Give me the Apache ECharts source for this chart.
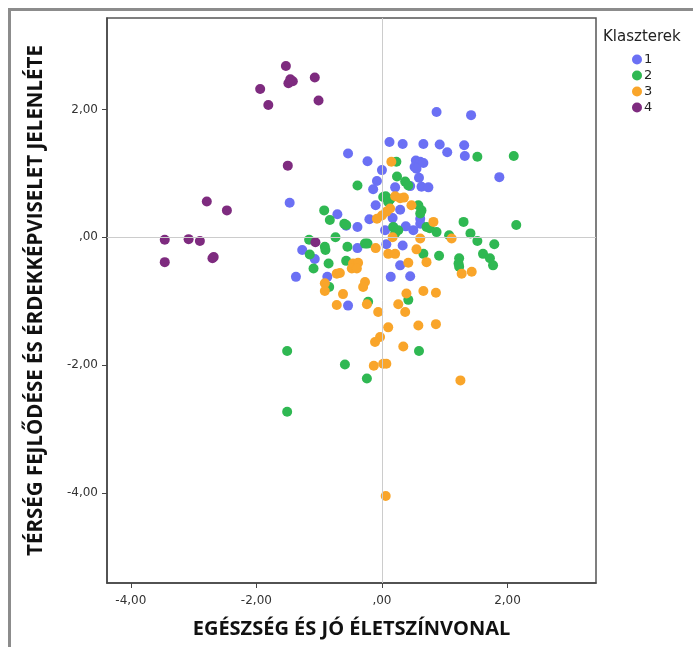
<!DOCTYPE html>
<html>
<head>
<meta charset="utf-8">
<script src="https://cdn.jsdelivr.net/npm/echarts@6/dist/echarts.min.js"></script>
<style>
html,body{margin:0;padding:0;background:#fff;overflow:hidden;}
#frame{position:absolute;left:8px;top:8px;width:800px;height:800px;border:3px solid #8c8c8c;box-sizing:border-box;}
#chart{position:absolute;left:0;top:0;width:693px;height:647px;}
</style>
</head>
<body>
<div id="frame"></div>
<div id="chart"></div>
<script>
const clusterNames = ['1', '2', '3', '4'];
const xTicks = [-4, -2, 0, 2];
const yTicks = [-4, -2, 0, 2];
const xTitle = 'EGÉSZSÉG ÉS JÓ ÉLETSZÍNVONAL';
const yTitle = 'TÉRSÉG FEJLŐDÉSE ÉS ÉRDEKKÉPVISELET JELENLÉTE';
const legendTitle = 'Klaszterek';

const cluster1 = [
  [0.87,1.96],[1.42,1.91],[0.12,1.49],[0.33,1.46],[0.66,1.46],[0.92,1.45],[1.31,1.44],
  [1.04,1.33],[1.32,1.27],[-0.54,1.31],[-0.23,1.19],[0.54,1.20],[0.61,1.18],[0.66,1.16],
  [0.52,1.10],[0.55,1.07],[0.00,1.05],[1.87,0.94],[0.59,0.93],[-0.08,0.88],[-0.14,0.75],
  [0.21,0.78],[0.45,0.80],[0.63,0.79],[0.74,0.78],[-1.47,0.54],[-0.10,0.50],[0.29,0.43],
  [-0.71,0.36],[-0.20,0.28],[0.17,0.30],[0.61,0.29],[-0.57,0.18],[-0.39,0.16],[0.38,0.17],
  [0.50,0.11],[0.05,0.11],[-1.27,-0.20],[-1.07,-0.34],[-0.39,-0.17],[0.07,-0.11],[0.33,-0.13],
  [0.29,-0.44],[0.45,-0.61],[0.14,-0.62],[-1.37,-0.62],[-0.87,-0.62],[-0.54,-1.07],
  [0.18,0.16],[0.61,0.21]
];
const cluster2 = [
  [-0.39,0.81],[-0.92,0.42],[-0.83,0.27],[-0.60,0.21],[-0.57,0.19],[-0.74,0.00],[-1.16,-0.04],
  [-1.15,-0.27],[-0.90,-0.20],[-0.55,-0.15],[-1.09,-0.49],[-0.85,-0.41],[-0.57,-0.37],[-0.84,-0.78],
  [0.23,1.18],[0.24,0.95],[0.37,0.87],[0.42,0.81],[0.06,0.64],[0.13,0.59],[0.58,0.50],
  [0.63,0.42],[0.61,0.37],[0.18,0.16],[0.26,0.11],[0.21,0.06],[0.71,0.16],[0.87,0.08],
  [-0.23,-0.10],[-0.91,-0.15],[1.52,1.26],[2.10,1.27],[1.30,0.24],[2.14,0.19],[0.76,0.14],
  [1.07,0.03],[1.41,0.06],[1.52,-0.06],[1.79,-0.11],[0.66,-0.26],[0.91,-0.29],[1.23,-0.33],
  [1.22,-0.41],[1.23,-0.46],[1.61,-0.26],[1.72,-0.33],[1.77,-0.44],[0.02,0.63],[0.10,0.55],
  [-0.27,-0.10],[-0.22,-1.01],[0.42,-0.98],[-1.51,-1.78],[0.59,-1.78],[-0.59,-1.99],
  [-0.24,-2.21],[-1.51,-2.73]
];
const cluster3 = [
  [0.15,1.18],[0.21,0.64],[0.29,0.61],[0.35,0.62],[0.47,0.50],[0.13,0.45],[0.07,0.40],
  [0.00,0.34],[-0.08,0.29],[0.82,0.24],[0.17,0.00],[0.61,-0.02],[-0.10,-0.17],[1.11,-0.02],
  [0.55,-0.19],[0.42,-0.40],[0.71,-0.39],[1.27,-0.57],[1.43,-0.54],[0.66,-0.84],[0.86,-0.87],
  [0.10,-0.26],[0.21,-0.26],[-0.46,-0.41],[-0.38,-0.40],[-0.48,-0.49],[-0.40,-0.49],
  [-0.72,-0.57],[-0.67,-0.56],[-0.91,-0.72],[-0.91,-0.84],[-0.27,-0.70],[-0.30,-0.78],
  [-0.62,-0.89],[-0.72,-1.06],[-0.24,-1.05],[-0.06,-1.17],[0.39,-0.88],[0.26,-1.05],
  [0.37,-1.17],[0.10,-1.41],[0.58,-1.38],[0.86,-1.36],[-0.03,-1.56],[-0.11,-1.64],
  [0.34,-1.71],[-0.13,-2.01],[0.02,-1.98],[0.07,-1.98],[1.25,-2.24],[0.06,-4.05]
];
const cluster4 = [
  [-1.53,2.68],[-1.07,2.50],[-1.94,2.32],[-1.49,2.41],[-1.42,2.44],[-1.46,2.47],
  [-1.81,2.07],[-1.01,2.14],[-1.50,1.12],[-2.79,0.56],[-2.47,0.42],[-3.46,-0.04],
  [-3.08,-0.03],[-2.90,-0.06],[-3.46,-0.39],[-2.70,-0.33],[-2.68,-0.31],[-1.06,-0.08]
];
const clusterData = [cluster1, cluster2, cluster3, cluster4];
const clusterColors = ['#6b70f4', '#2fb852', '#f9a52a', '#7e2b7f'];

function fmt(v) {
  if (v === 0) return ',00';
  return v.toFixed(2).replace('.', ',');
}

const chart = echarts.init(document.getElementById('chart'), null, {renderer: 'canvas'});
const tickFont = {fontFamily: 'DejaVu Sans', fontSize: 12, color: '#333'};
const titleFont = {fontFamily: 'Open Sans', fontWeight: 'bold', fontSize: 20, color: '#111'};

const series = clusterNames.map((n, i) => ({
  name: n,
  type: 'scatter',
  data: clusterData[i],
  symbol: 'circle',
  symbolSize: 10,
  itemStyle: {color: clusterColors[i], opacity: 1},
  z: 3,
  silent: true
}));
series.unshift({
  type: 'scatter',
  data: [],
  z: 1,
  silent: true,
  markLine: {
    silent: true,
    symbol: ['none', 'none'],
    label: {show: false},
    lineStyle: {color: '#cccccc', width: 1, type: 'solid'},
    animation: false,
    data: [{xAxis: 0}, {yAxis: 0}]
  }
});

chart.setOption({
  animation: false,
  backgroundColor: 'transparent',
  title: {
    text: legendTitle,
    left: 603,
    top: 30,
    textStyle: {fontFamily: 'DejaVu Sans', fontSize: 15, fontWeight: 'normal', color: '#222'},
    padding: 0
  },
  legend: {
    orient: 'vertical',
    left: 632,
    top: 53,
    itemWidth: 10,
    itemHeight: 10,
    itemGap: 3,
    icon: 'circle',
    padding: 0,
    data: clusterNames,
    textStyle: {fontFamily: 'DejaVu Sans', fontSize: 13, lineHeight: 13, color: '#222', padding: [0, 0, 0, -3]},
    selectedMode: false
  },
  grid: {
    left: 107, right: 97, top: 18, bottom: 64,
    show: true, borderColor: '#555', borderWidth: 1.5, backgroundColor: '#fff'
  },
  xAxis: {
    type: 'value',
    min: -4.38, max: 3.41,
    name: xTitle,
    nameLocation: 'middle',
    nameGap: 36,
    nameTextStyle: titleFont,
    axisLine: {show: true, onZero: false, lineStyle: {color: '#444', width: 1.5}},
    axisTick: {show: true, inside: false, length: 5, customValues: xTicks, lineStyle: {color: '#444'}},
    axisLabel: {customValues: xTicks, formatter: fmt, margin: 12, ...tickFont},
    splitLine: {show: false}
  },
  yAxis: {
    type: 'value',
    min: -5.41, max: 3.43,
    name: yTitle,
    nameLocation: 'middle',
    nameGap: 60,
    nameTextStyle: Object.assign({}, titleFont, {fontSize: 20.5}),
    axisLine: {show: true, onZero: false, lineStyle: {color: '#444', width: 1.5}},
    axisTick: {show: true, inside: false, length: 5, customValues: yTicks, lineStyle: {color: '#444'}},
    axisLabel: {customValues: yTicks, formatter: fmt, margin: 9, ...tickFont},
    splitLine: {show: false}
  },
  series: series
});
</script>
</body>
</html>
